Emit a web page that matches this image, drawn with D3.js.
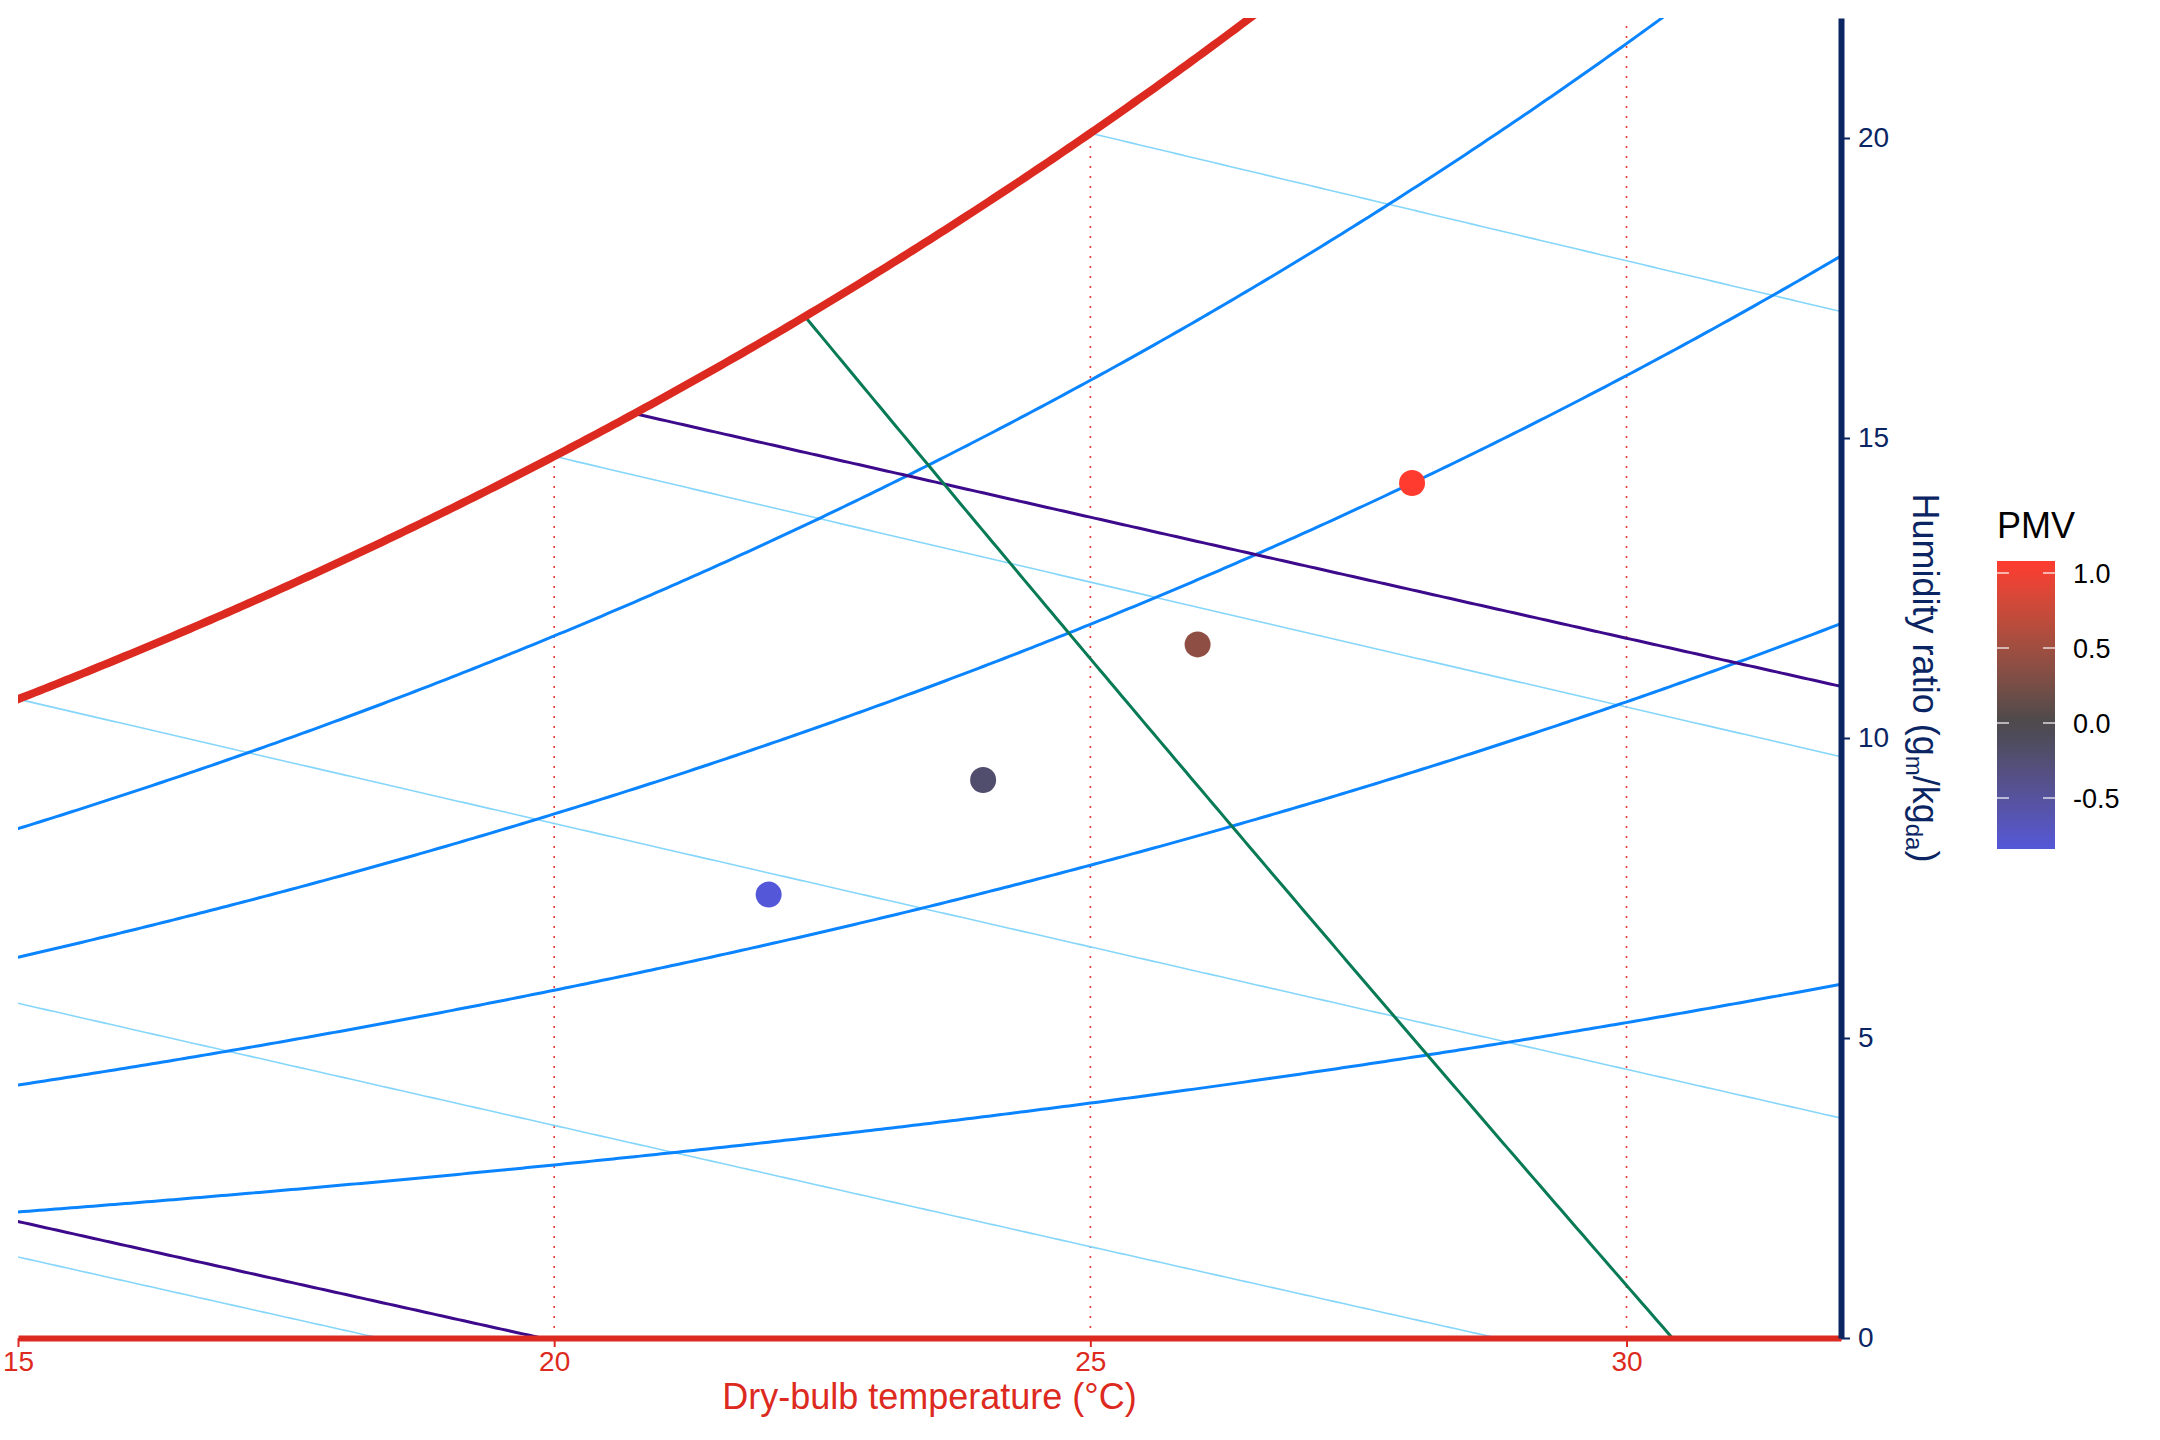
<!DOCTYPE html>
<html lang="en">
<head>
  <meta charset="utf-8">
  <title>psychrometric chart</title>
  <style>
    body { margin: 0; background: #fff; }
    svg { display: block; font-family: "Liberation Sans", Arial, sans-serif; }
  </style>
</head>
<body>
  <svg id="chart" width="2160" height="1440"></svg>

  <script src="https://d3js.org/d3.v7.min.js"></script>
  <script>

// axes
const tempDomain = [15, 32]
const humidityDomain = [0, 22]
const tempTicks = [15, 20, 25, 30]
const humidityTicks = [0, 5, 10, 15, 20]
const dryBulbGrid = [20, 25, 30]

// psychrometric grid levels
const rhLevels = [20, 40, 60, 80]        // %
const wetBulbLevels = [5, 10, 15, 20, 25] // degC
const enthalpyLevels = [20, 60]           // kJ/kg
const volumeLevels = [0.86]               // m3/kg

// measured points
const pointTemp = [22, 24, 26, 28]
const pointHumidity = [7.39, 9.3, 11.56, 14.25]
const pointPMV = [-0.84, -0.2, 0.4, 1.08]
const pmvTicks = [1.0, 0.5, 0.0, -0.5]

const RED = "#dd2a20", NAVY = "#0b2563"
const P = 101.325 // kPa

/** psychrometric relations (ASHRAE) **/
function pws(t) {
  const T = t + 273.15
  return Math.exp(-5800.2206/T + 1.3914993 - 0.048640239*T + 4.1764768e-5*T*T
    - 1.4452093e-8*T*T*T + 6.5459673*Math.log(T)) / 1000
}
const wRH = (t, rh) => { const pw = rh/100*pws(t); return 621.945*pw/(P - pw) }
const wWetBulb = (t, twb) => {
  const ws = wRH(twb, 100)/1000
  return 1000*((2501 - 2.326*twb)*ws - 1.006*(t - twb)) / (2501 + 1.86*t - 4.186*twb)
}
const wEnthalpy = (t, h) => 1000*(h - 1.006*t)/(2501 + 1.86*t)
const wVolume = (t, v) => 1000*(v*P/(0.287042*(t + 273.15)) - 1)/1.607858

// where a falling line meets the saturation curve
function satCross(f) {
  let lo = -30, hi = 60
  for (let i = 0; i < 60; i++) {
    const m = (lo + hi)/2
    if (f(m) - wRH(m, 100) > 0) lo = m; else hi = m
  }
  return lo
}

const svg = d3.select("#chart")
svg.append("rect").attr("width", 2160).attr("height", 1440).attr("fill", "#fff")

const x = d3.scaleLinear().domain(tempDomain).range([18, 1841])
const y = d3.scaleLinear().domain(humidityDomain).range([1338, 18])

svg.append("clipPath").attr("id", "plotclip")
  .append("rect")
    .attr("x", x(tempDomain[0])).attr("y", y(humidityDomain[1]))
    .attr("width", x(tempDomain[1]) - x(tempDomain[0]))
    .attr("height", y(humidityDomain[0]) - y(humidityDomain[1]))

const plot = svg.append("g").attr("clip-path", "url(#plotclip)")
const line = d3.line().x(d => x(d[0])).y(d => y(d[1]))

function curve(t0, f) {
  return d3.range(t0, tempDomain[1] + 0.05, 0.05).map(t => [t, f(t)])
}

// dry-bulb grid, dotted up to saturation
plot.selectAll("line.drybulb").data(dryBulbGrid)
  .enter().append("line")
    .attr("class", "drybulb")
    .attr("x1", d => x(d)).attr("x2", d => x(d))
    .attr("y1", y(0))
    .attr("y2", d => y(Math.min(wRH(d, 100), humidityDomain[1])))
    .attr("stroke", "#e83a32").attr("stroke-width", 1.6)
    .attr("stroke-dasharray", "2,8")

// wet-bulb lines
plot.selectAll("path.wetbulb").data(wetBulbLevels)
  .enter().append("path")
    .attr("class", "wetbulb")
    .attr("d", d => line(curve(d, t => wWetBulb(t, d))))
    .attr("fill", "none").attr("stroke", "#86d6fb").attr("stroke-width", 1.6)

// relative humidity curves
plot.selectAll("path.rh").data(rhLevels)
  .enter().append("path")
    .attr("class", "rh")
    .attr("d", d => line(curve(tempDomain[0] - 1, t => wRH(t, d))))
    .attr("fill", "none").attr("stroke", "#0a84ff").attr("stroke-width", 3)

// enthalpy lines
plot.selectAll("path.enthalpy").data(enthalpyLevels)
  .enter().append("path")
    .attr("class", "enthalpy")
    .attr("d", d => line(curve(satCross(t => wEnthalpy(t, d)), t => wEnthalpy(t, d))))
    .attr("fill", "none").attr("stroke", "#3d0a8c").attr("stroke-width", 3)

// specific volume lines
plot.selectAll("path.volume").data(volumeLevels)
  .enter().append("path")
    .attr("class", "volume")
    .attr("d", d => line(curve(satCross(t => wVolume(t, d)), t => wVolume(t, d))))
    .attr("fill", "none").attr("stroke", "#087a55").attr("stroke-width", 3)

// saturation curve
plot.append("path")
  .attr("d", line(curve(tempDomain[0] - 1, t => wRH(t, 100))))
  .attr("fill", "none").attr("stroke", RED).attr("stroke-width", 8)
  .attr("stroke-linecap", "round")

/** axes **/
const xAxis = svg.append("g")
  .attr("transform", "translate(0," + y(0) + ")")
  .call(d3.axisBottom(x).tickValues(tempTicks).tickSize(9).tickSizeOuter(0).tickPadding(4))
xAxis.select(".domain").attr("stroke", RED).attr("stroke-width", 6)
xAxis.selectAll(".tick line").attr("stroke", RED).attr("stroke-width", 2)
xAxis.selectAll(".tick text").attr("fill", RED).attr("font-size", 28)
  .style("font-family", "'Liberation Sans', Arial, sans-serif")

const yAxis = svg.append("g")
  .attr("transform", "translate(" + x(tempDomain[1]) + ",0)")
  .call(d3.axisRight(y).tickValues(humidityTicks).tickSize(9).tickSizeOuter(0).tickPadding(8))
yAxis.select(".domain").attr("stroke", NAVY).attr("stroke-width", 6)
yAxis.selectAll(".tick line").attr("stroke", NAVY).attr("stroke-width", 2)
yAxis.selectAll(".tick text").attr("fill", NAVY).attr("font-size", 28)
  .style("font-family", "'Liberation Sans', Arial, sans-serif")

svg.append("text")
  .attr("x", (x.range()[0] + x.range()[1])/2).attr("y", 1409)
  .attr("text-anchor", "middle").attr("font-size", 36).attr("fill", RED)
  .text("Dry-bulb temperature (°C)")

const ytitle = svg.append("text")
  .attr("transform", "translate(1913," + (y.range()[0] + y.range()[1])/2 + ") rotate(90)")
  .attr("text-anchor", "middle").attr("font-size", 36).attr("fill", NAVY)
ytitle.append("tspan").text("Humidity ratio (g")
ytitle.append("tspan").text("m").attr("font-size", 24).attr("dy", 7)
ytitle.append("tspan").text("/kg").attr("dy", -7)
ytitle.append("tspan").text("da").attr("font-size", 24).attr("dy", 7)
ytitle.append("tspan").text(")").attr("dy", -7)

/** points and PMV colour scale **/
const pmvMin = d3.min(pointPMV), pmvMax = d3.max(pointPMV)
const colour = d3.scaleLinear()
  .domain([pmvMin, 0, pmvMax])
  .range(["#5458d8", "#4a4a4c", "#ff3b30"])
  .interpolate(d3.interpolateLab)

svg.append("g").selectAll("circle").data(d3.range(pointTemp.length))
  .enter().append("circle")
    .attr("cx", i => x(pointTemp[i]))
    .attr("cy", i => y(pointHumidity[i]))
    .attr("r", 13)
    .attr("fill", i => colour(pointPMV[i]))

// legend
const legend = svg.append("g")
const barX = 1997, barW = 58, barTop = 561, barBottom = 849
const ly = d3.scaleLinear().domain([pmvMin, pmvMax]).range([barBottom, barTop])

const grad = svg.append("defs").append("linearGradient")
  .attr("id", "pmvgrad").attr("x1", 0).attr("x2", 0).attr("y1", 1).attr("y2", 0)
grad.selectAll("stop").data(d3.range(0, 1.0001, 0.05))
  .enter().append("stop")
    .attr("offset", d => d)
    .attr("stop-color", d => colour(pmvMin + d*(pmvMax - pmvMin)))

legend.append("text")
  .attr("x", barX).attr("y", 538).attr("font-size", 36).attr("fill", "#000")
  .text("PMV")

legend.append("rect")
  .attr("x", barX).attr("y", barTop).attr("width", barW).attr("height", barBottom - barTop)
  .attr("fill", "url(#pmvgrad)")

legend.selectAll("line.tl").data(pmvTicks)
  .enter().append("line")
    .attr("x1", barX).attr("x2", barX + 12)
    .attr("y1", d => ly(d)).attr("y2", d => ly(d))
    .attr("stroke", "#fff").attr("stroke-width", 1.5).attr("opacity", 0.8)
legend.selectAll("line.tr").data(pmvTicks)
  .enter().append("line")
    .attr("x1", barX + barW - 12).attr("x2", barX + barW)
    .attr("y1", d => ly(d)).attr("y2", d => ly(d))
    .attr("stroke", "#fff").attr("stroke-width", 1.5).attr("opacity", 0.8)
legend.selectAll("text.lab").data(pmvTicks)
  .enter().append("text")
    .attr("x", 2073).attr("y", d => ly(d)).attr("dy", "0.36em")
    .attr("font-size", 27).attr("fill", "#000")
    .text(d => d.toFixed(1))

  </script>
</body>
</html>
